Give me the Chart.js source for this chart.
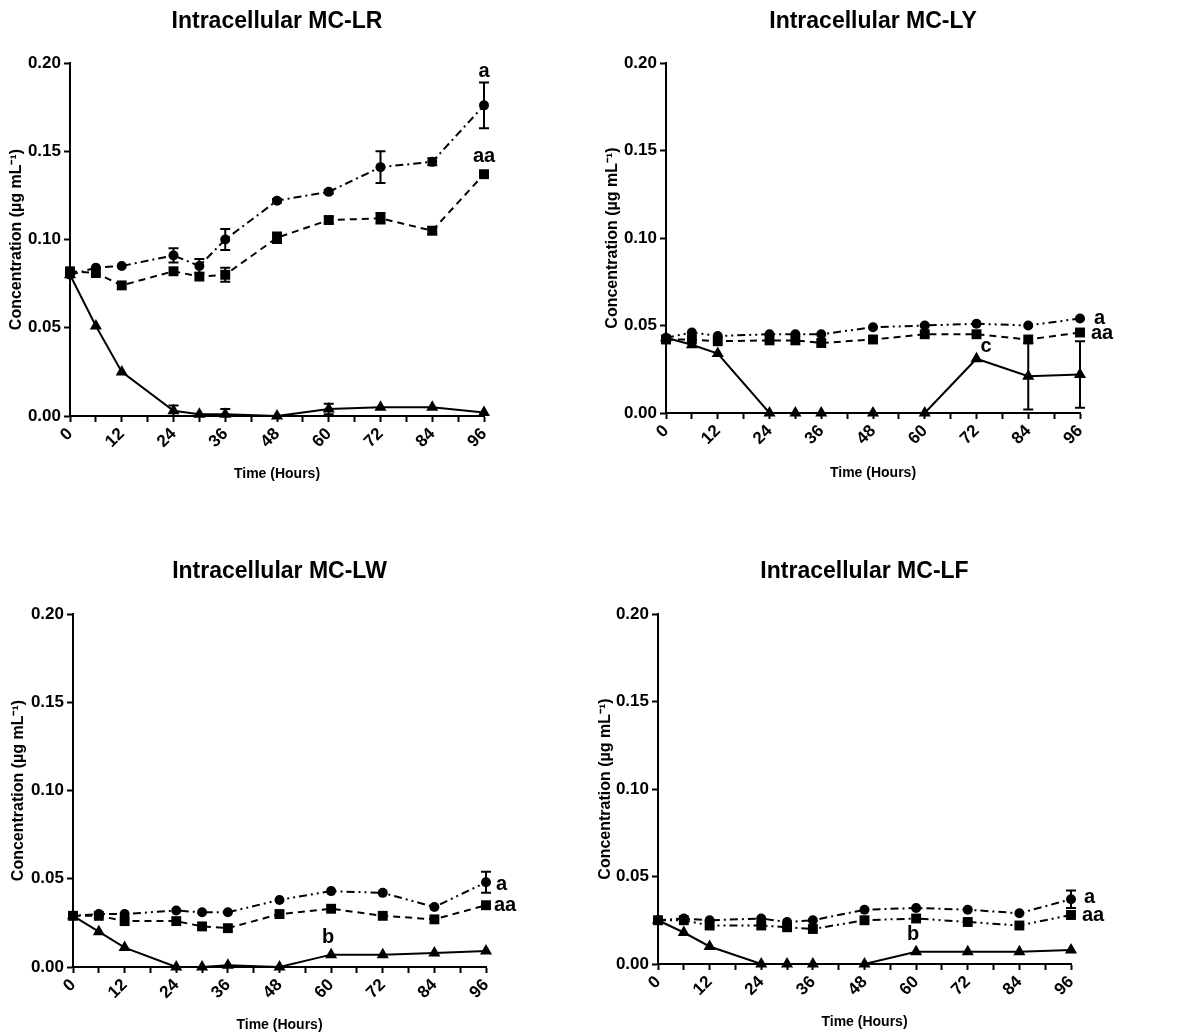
<!DOCTYPE html>
<html lang="en">
<head>
    <meta charset="UTF-8">
    <title>Intracellular MC</title>
    <script src="https://cdn.jsdelivr.net/npm/chart.js"></script>
    <style>
        body { margin: 0; background: #fff; }
        canvas { position: absolute; }
    </style>
</head>
<body>
    <canvas id="lr" width="596" height="517" style="left:0;top:0"></canvas>
    <canvas id="ly" width="596" height="517" style="left:596px;top:0"></canvas>
    <canvas id="lw" width="596" height="517" style="left:0;top:517px"></canvas>
    <canvas id="lf" width="596" height="517" style="left:596px;top:517px"></canvas>
    <script>
        const hours = [0, 6, 12, 24, 30, 36, 48, 60, 72, 84, 96];
        const xTicks = [0, 6, 12, 18, 24, 30, 36, 42, 48, 54, 60, 66, 72, 78, 84, 90, 96];
        const yTicks = [0, 0.05, 0.10, 0.15, 0.20];

        // MC-LR
        const lrCircle = [0.080, 0.084, 0.085, 0.091, 0.085, 0.100, 0.122, 0.127, 0.141, 0.144, 0.176];
        const lrCircleErr = [0, 0, 0, 0.004, 0.004, 0.006, 0.001, 0.001, 0.009, 0.002, 0.013];
        const lrSquare = [0.082, 0.081, 0.074, 0.082, 0.079, 0.080, 0.101, 0.111, 0.112, 0.105, 0.137];
        const lrSquareErr = [0, 0, 0, 0, 0, 0.004, 0.003, 0.002, 0.003, 0.002, 0.001];
        const lrTriangle = [0.080, 0.051, 0.025, 0.003, 0.001, 0.001, 0, 0.004, 0.005, 0.005, 0.002];
        const lrTriangleErr = [0, 0, 0, 0.003, 0, 0.003, 0, 0.003, 0, 0, 0];

        // MC-LY
        const lyCircle = [0.043, 0.046, 0.044, 0.045, 0.045, 0.045, 0.049, 0.050, 0.051, 0.050, 0.054];
        const lyCircleErr = [0, 0, 0, 0, 0, 0, 0, 0, 0, 0, 0];
        const lySquare = [0.042, 0.042, 0.041, 0.0415, 0.0415, 0.040, 0.042, 0.045, 0.045, 0.042, 0.046];
        const lySquareErr = [0, 0, 0, 0, 0, 0, 0, 0, 0, 0, 0];
        const lyTriangle = [0.043, 0.039, 0.034, 0, 0, 0, 0, 0, 0.031, 0.021, 0.022];
        const lyTriangleErr = [0, 0, 0, 0, 0, 0, 0, 0, 0, 0.019, 0.019];

        // MC-LW
        const lwCircle = [0.029, 0.030, 0.030, 0.032, 0.031, 0.031, 0.038, 0.043, 0.042, 0.034, 0.048];
        const lwCircleErr = [0, 0, 0, 0, 0, 0, 0, 0, 0, 0, 0.006];
        const lwSquare = [0.029, 0.029, 0.026, 0.026, 0.023, 0.022, 0.030, 0.033, 0.029, 0.027, 0.035];
        const lwSquareErr = [0, 0, 0, 0, 0, 0, 0, 0, 0, 0, 0];
        const lwTriangle = [0.029, 0.020, 0.011, 0, 0, 0.001, 0, 0.007, 0.007, 0.008, 0.009];
        const lwTriangleErr = [0, 0, 0, 0, 0, 0, 0, 0, 0, 0, 0];

        // MC-LF
        const lfCircle = [0.025, 0.026, 0.025, 0.026, 0.024, 0.025, 0.031, 0.032, 0.031, 0.029, 0.037];
        const lfCircleErr = [0, 0, 0, 0, 0, 0, 0, 0, 0, 0, 0.005];
        const lfSquare = [0.025, 0.025, 0.022, 0.022, 0.021, 0.020, 0.025, 0.026, 0.024, 0.022, 0.028];
        const lfSquareErr = [0, 0, 0, 0, 0, 0, 0, 0, 0, 0, 0];
        const lfTriangle = [0.025, 0.018, 0.010, 0, 0, 0, 0, 0.007, 0.007, 0.007, 0.008];
        const lfTriangleErr = [0, 0, 0, 0, 0, 0, 0, 0, 0, 0, 0];

        // letters: [text, series (0 circle, 1 square, 2 triangle), point index]
        const lrLetters = [['a', 0, 10], ['aa', 1, 10]];
        const lyLetters = [['a', 0, 10], ['aa', 1, 10], ['c', 2, 8]];
        const lwLetters = [['a', 0, 10], ['aa', 1, 10], ['b', 2, 7]];
        const lfLetters = [['a', 0, 10], ['aa', 1, 10], ['b', 2, 7]];

        Chart.defaults.font.family = "'Liberation Sans', Arial, sans-serif";
        Chart.defaults.color = '#000';

        const errorBars = {
            id: 'errorBars',
            afterDatasetsDraw(chart) {
                const { ctx, scales: { x, y } } = chart;
                ctx.save();
                ctx.strokeStyle = '#000';
                ctx.lineWidth = 2;
                chart.data.datasets.forEach(ds => {
                    ds.data.forEach((p, i) => {
                        const e = ds.err[i];
                        if (!e) return;
                        const px = x.getPixelForValue(p.x);
                        const top = y.getPixelForValue(p.y + e);
                        const bot = y.getPixelForValue(Math.max(p.y - e, 0));
                        ctx.beginPath();
                        ctx.moveTo(px, top); ctx.lineTo(px, bot);
                        ctx.moveTo(px - 5, top); ctx.lineTo(px + 5, top);
                        ctx.moveTo(px - 5, bot); ctx.lineTo(px + 5, bot);
                        ctx.stroke();
                    });
                });
                ctx.restore();
            }
        };

        const letters = {
            id: 'letters',
            afterDatasetsDraw(chart, args, opts) {
                const ctx = chart.ctx;
                ctx.save();
                ctx.fillStyle = '#000';
                ctx.font = "bold 20px 'Liberation Sans', Arial, sans-serif";
                ctx.textBaseline = 'middle';
                opts.items.forEach((l, k) => {
                    const pt = chart.getDatasetMeta(l[1]).data[l[2]];
                    const off = opts.offsets[k];
                    ctx.textAlign = off[2] || 'center';
                    ctx.fillText(l[0], pt.x + off[0], pt.y + off[1]);
                });
                ctx.restore();
            }
        };

        function pts(vals) {
            return vals.map((v, i) => ({ x: hours[i], y: v }));
        }

        function makeChart(id, title, series, items, offsets, dashes, box) {
            const shapes = ['circle', 'rect', 'triangle'];
            const radii = [5, 7, 7];
            const datasets = series.map((s, k) => ({
                data: pts(s[0]),
                err: s[1],
                borderColor: '#000',
                backgroundColor: '#000',
                borderWidth: 2,
                borderDash: dashes[k],
                pointStyle: shapes[k],
                pointRadius: radii[k],
                pointBorderWidth: 0,
                clip: false,
                tension: 0
            }));
            new Chart(document.getElementById(id), {
                type: 'line',
                data: { datasets },
                options: {
                    responsive: false,
                    animation: false,
                    layout: { padding: { left: 0, right: box.r, top: 0, bottom: box.b } },
                    plugins: {
                        legend: { display: false },
                        tooltip: { enabled: false },
                        title: {
                            display: true, text: title, fullSize: false,
                            font: { size: 23, weight: 'bold' },
                            padding: { top: box.tt, bottom: box.tb }
                        },
                        letters: { items, offsets }
                    },
                    scales: {
                        x: {
                            type: 'linear', min: 0, max: 96,
                            afterBuildTicks: s => { s.ticks = xTicks.map(v => ({ value: v })); },
                            ticks: {
                                autoSkip: false, minRotation: 45, maxRotation: 45, padding: 2,
                                font: { size: 17, weight: 'bold' },
                                callback: v => (v % 12 === 0 ? v : '')
                            },
                            grid: { drawOnChartArea: false, tickLength: 6, tickWidth: 2, color: '#000' },
                            border: { width: 2, color: '#000' },
                            title: { display: true, text: 'Time (Hours)', font: { size: 14, weight: 'bold' }, padding: 0 },
                            afterFit: s => { s.height = box.xh; }
                        },
                        y: {
                            min: 0, max: 0.2,
                            afterBuildTicks: s => { s.ticks = yTicks.map(v => ({ value: v })); },
                            ticks: { padding: 3, font: { size: 17, weight: 'bold' }, callback: v => v.toFixed(2) },
                            grid: { drawOnChartArea: false, tickLength: 6, tickWidth: 2, color: '#000' },
                            border: { width: 2, color: '#000' },
                            title: {
                                display: true, text: 'Concentration (\u00b5g mL\u207b\u00b9)',
                                font: { size: 16, weight: 'bold' }, padding: { top: box.yt, bottom: 0 }
                            },
                            afterFit: s => { s.width = box.yw; }
                        }
                    }
                },
                plugins: [errorBars, letters]
            });
        }

        makeChart('lr', 'Intracellular MC-LR',
            [[lrCircle, lrCircleErr], [lrSquare, lrSquareErr], [lrTriangle, lrTriangleErr]],
            lrLetters, [[0, -34], [0, -18]],
            [[8, 4, 2, 4], [7, 5], []],
            { r: 112, b: 34.6, tt: 8.2, tb: 27.2, xh: 66.4, yw: 70, yt: 7.4 });

        makeChart('ly', 'Intracellular MC-LY',
            [[lyCircle, lyCircleErr], [lySquare, lySquareErr], [lyTriangle, lyTriangleErr]],
            lyLetters, [[14, 0, 'left'], [11, 1, 'left'], [4, -12, 'left']],
            [[8, 4, 2, 4, 2, 4], [7, 5], []],
            { r: 112, b: 35.6, tt: 8.2, tb: 27.2, xh: 68.4, yw: 70, yt: 7.4 });

        makeChart('lw', 'Intracellular MC-LW',
            [[lwCircle, lwCircleErr], [lwSquare, lwSquareErr], [lwTriangle, lwTriangleErr]],
            lwLetters, [[10, 2, 'left'], [8, 0, 'left'], [-3, -17]],
            [[2, 4, 2, 4, 8, 4], [7, 5], []],
            { r: 110, b: 0.6, tt: 41.2, tb: 28.2, xh: 66.4, yw: 73, yt: 9.4 });

        makeChart('lf', 'Intracellular MC-LF',
            [[lfCircle, lfCircleErr], [lfSquare, lfSquareErr], [lfTriangle, lfTriangleErr]],
            lfLetters, [[13, -2, 'left'], [11, 0, 'left'], [-3, -17]],
            [[8, 4, 2, 4], [8, 4, 2, 4, 2, 4], []],
            { r: 121, b: 3.6, tt: 41.2, tb: 28.2, xh: 66.4, yw: 62, yt: 0 });
    </script>
</body>
</html>
